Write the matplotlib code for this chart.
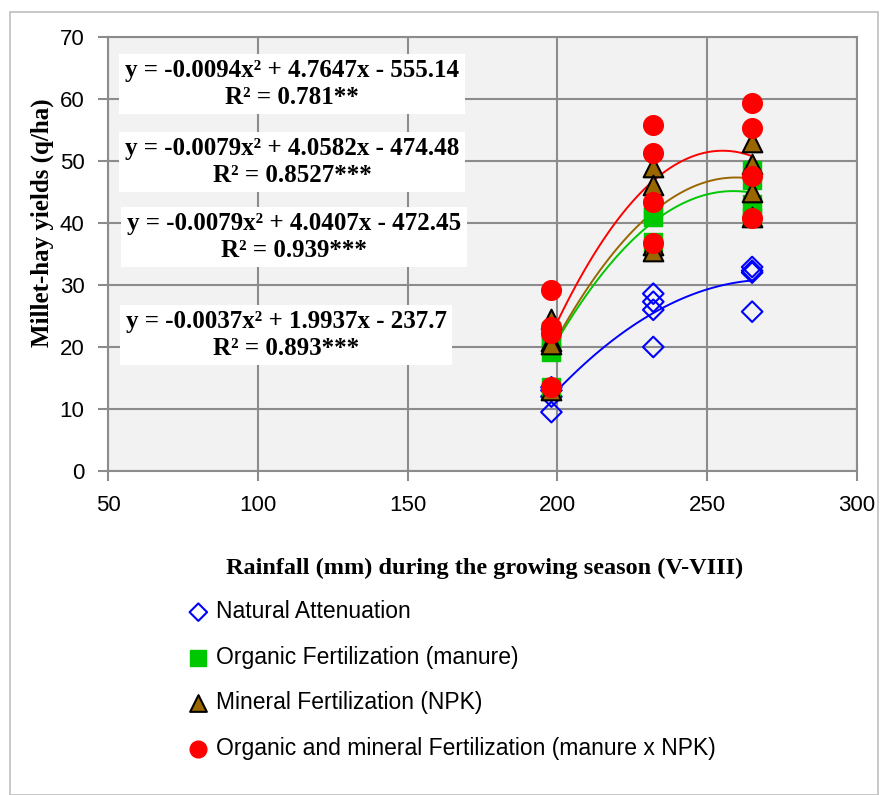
import numpy as np
import matplotlib
matplotlib.use('Agg')
import matplotlib.pyplot as plt
from matplotlib.patches import Rectangle

# ===== Data =====
na_x = [198, 198, 198, 198, 232, 232, 232, 232, 265, 265, 265, 265]
na_y = [9.5, 12.0, 13.0, 13.5, 20.0, 26.0, 27.3, 28.6, 25.7, 32.0, 32.3, 32.9]

org_x = [198, 198, 198, 198, 198, 232, 232, 232, 265, 265, 265, 265]
org_y = [22.6, 21.5, 20.5, 19.2, 13.5, 42.5, 41.0, 37.0, 48.5, 47.0, 43.0, 41.0]

min_x = [198, 198, 198, 198, 232, 232, 232, 232, 265, 265, 265, 265]
min_y = [24.5, 21.0, 20.5, 13.0, 49.0, 46.2, 36.5, 35.5, 53.0, 49.5, 45.0, 41.0]

om_x = [198, 198, 198, 198, 232, 232, 232, 232, 265, 265, 265, 265]
om_y = [29.2, 23.2, 22.2, 13.6, 55.8, 51.3, 43.4, 36.7, 59.3, 55.4, 47.6, 40.8]

labels = ['Natural Attenuation', 'Organic Fertilization (manure)',
          'Mineral Fertilization (NPK)',
          'Organic and mineral Fertilization (manure x NPK)']

equations = [
    'y = -0.0094x² + 4.7647x - 555.14\nR² = 0.781**',
    'y = -0.0079x² + 4.0582x - 474.48\nR² = 0.8527***',
    'y = -0.0079x² + 4.0407x - 472.45\nR² = 0.939***',
    'y = -0.0037x² + 1.9937x - 237.7\nR² = 0.893***',
]

# ===== Styles =====
BLUE = '#0000FF'
GREEN = '#00C800'
BROWN = '#996600'
RED = '#FF0000'
GRID = '#8C8C8C'
SERIF = ['Liberation Serif', 'DejaVu Serif']
SANS = ['Liberation Sans Narrow', 'Liberation Sans', 'DejaVu Sans']

fig = plt.figure(figsize=(8.84, 7.95), dpi=100)
fig.patches.append(Rectangle((10 / 884, 0), 868 / 884, 1 - 12 / 795,
                             transform=fig.transFigure, fill=False,
                             edgecolor='#BFBFBF', lw=1.2))
ax = fig.add_axes([108 / 884, 1 - 471 / 795, 749 / 884, 434 / 795])
ax.set_facecolor('#F2F2F2')

# ===== Trend lines (quadratic fits, as in the spreadsheet) =====
xs = np.linspace(198, 265, 100)
for x, y, c in [(na_x, na_y, BLUE), (org_x, org_y, GREEN),
                (min_x, min_y, BROWN), (om_x, om_y, RED)]:
    p = np.polyfit(x, y, 2)
    ax.plot(xs, np.polyval(p, xs), color=c, lw=1.4, zorder=2)

# ===== Points =====
h1 = ax.scatter(na_x, na_y, marker='D', s=110, facecolors='none',
                edgecolors=BLUE, linewidths=1.5, zorder=3)
h2 = ax.scatter(org_x, org_y, marker='s', s=170, color=GREEN, zorder=4)
h3 = ax.scatter(min_x, min_y, marker='^', s=200, color=BROWN,
                edgecolors='black', linewidths=1.5, zorder=5)
h4 = ax.scatter(om_x, om_y, marker='o', s=200, color=RED, zorder=6)

# ===== Axes =====
ax.set_xlim(50, 300)
ax.set_ylim(0, 70)
ax.set_xticks(range(50, 301, 50))
ax.set_yticks(range(0, 71, 10))
ax.grid(True, color=GRID, lw=1.5)
ax.set_axisbelow(True)
for s in ax.spines.values():
    s.set_color(GRID)
    s.set_linewidth(1.5)
ax.tick_params(colors=GRID, length=7, width=1.5, pad=10, labelcolor='black')
for t in ax.get_xticklabels() + ax.get_yticklabels():
    t.set_family(SANS)
    t.set_fontsize(16)

ax.set_ylabel('Millet-hay yields (q/ha)', family=SERIF, fontweight='bold', fontsize=18)
ax.yaxis.set_label_coords(-0.072, 0.571)
ax.set_xlabel('Rainfall (mm) during the growing season (V-VIII)',
              family=SERIF, fontweight='bold', fontsize=17.5)
ax.xaxis.set_label_coords(0.503, -0.20)

# ===== Equation boxes =====
box_y = [84, 162, 237, 335]
box_x = [292, 292, 294, 286]
for eq, bx, by in zip(equations, box_x, box_y):
    fig.text(bx / 884, 1 - by / 795, eq, ha='center', va='center',
             family=SERIF, fontweight='bold', fontsize=18, linespacing=1.2,
             bbox=dict(boxstyle='square,pad=0.22', fc='white', ec='none'))

# ===== Legend =====
fig.legend([h1, h2, h3, h4], labels, loc='upper left',
           bbox_to_anchor=(180 / 884, 1 - 591 / 795), frameon=False,
           prop={'family': SANS, 'size': 16.5}, handlelength=0.8,
           handletextpad=0.35, labelspacing=0.98, markerscale=0.85,
           borderaxespad=0)

fig.savefig('out.png', dpi=100, facecolor='white')
